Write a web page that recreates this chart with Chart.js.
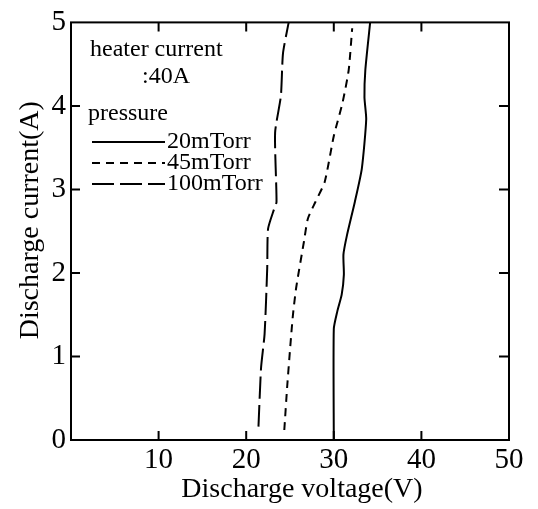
<!DOCTYPE html>
<html>
<head>
<meta charset="utf-8">
<script src="https://cdn.jsdelivr.net/npm/chart.js@4"></script>
<style>
  html, body { margin: 0; padding: 0; background: #fff; }
  #wrap { width: 538px; height: 509px; }
</style>
</head>
<body>
<div id="wrap"><canvas id="myChart" width="538" height="509"></canvas></div>
<script>
// valores (tensão em V, corrente em A)
const v20 = [30.0, 30.0, 30.4, 30.9, 31.15, 31.1, 31.5, 32.4, 33.2, 33.7, 33.5, 33.6, 34.15];
const i20 = [0, 1.33, 1.54, 1.74, 1.98, 2.22, 2.45, 2.85, 3.25, 3.84, 4.1, 4.43, 5.0];

const v45 = [24.35, 24.7, 25.3, 25.7, 26.6, 27.04, 27.9, 28.96, 30.0, 31.0, 31.7, 32.1];
const i45 = [0.12, 0.67, 1.46, 1.82, 2.38, 2.65, 2.85, 3.09, 3.64, 4.04, 4.43, 4.93];

const v100 = [21.4, 21.7, 22.1, 22.4, 22.5, 23.2, 23.46, 23.3, 23.96, 24.2, 24.85];
const i100 = [0.16, 0.87, 1.27, 2.06, 2.53, 2.77, 2.85, 3.68, 4.12, 4.63, 5.0];

const seriesNames = ['20mTorr', '45mTorr', '100mTorr'];
const xTicks = [0, 10, 20, 30, 40, 50];
const yTicks = [0, 1, 2, 3, 4, 5];
const xTitle = 'Discharge voltage(V)';
const yTitle = 'Discharge current(A)';

const serif = "'Liberation Serif', 'Times New Roman', serif";

function pts(xs, ys) {
    return xs.map((x, k) => ({ x: x, y: ys[k] }));
}

// caixa, marcas para dentro, títulos e legenda desenhados à mão
const framePlugin = {
    id: 'frame',
    afterDatasetsDraw(chart) {
        const c = chart.ctx;
        const a = chart.chartArea;
        const xs = chart.scales.x, ys = chart.scales.y;
        c.save();
        c.strokeStyle = '#000';
        c.lineWidth = 2;
        c.strokeRect(a.left, a.top, a.right - a.left, a.bottom - a.top);
        c.beginPath();
        xTicks.slice(1, -1).forEach(v => {
            const px = xs.getPixelForValue(v);
            c.moveTo(px, a.bottom); c.lineTo(px, a.bottom - 9);
            c.moveTo(px, a.top); c.lineTo(px, a.top + 9);
        });
        yTicks.slice(1, -1).forEach(v => {
            const py = ys.getPixelForValue(v);
            c.moveTo(a.left, py); c.lineTo(a.left + 9, py);
            c.moveTo(a.right, py); c.lineTo(a.right - 10, py);
        });
        c.stroke();

        c.fillStyle = '#000';

        // títulos dos eixos
        c.font = '28px ' + serif;
        c.textAlign = 'center';
        c.textBaseline = 'alphabetic';
        c.fillText(xTitle, (a.left + a.right) / 2 + 12, 497);
        c.save();
        c.translate(38, (a.top + a.bottom) / 2 - 11);
        c.rotate(-Math.PI / 2);
        c.fillText(yTitle, 0, 0);
        c.restore();

        // legenda
        c.textAlign = 'left';
        c.font = '24px ' + serif;
        c.fillText('heater current', a.left + 19, 56);
        c.fillText(':40A', a.left + 71, 83);
        c.fillText('pressure', a.left + 17, 120);
        const rows = [148, 169, 190];
        chart.data.datasets.forEach((ds, k) => {
            const y = rows[k] - 6;
            c.setLineDash(ds.borderDash || []);
            c.lineWidth = 2;
            c.beginPath();
            c.moveTo(a.left + 21, y);
            c.lineTo(a.left + 94, y);
            c.stroke();
            c.setLineDash([]);
            c.fillText(seriesNames[k], a.left + 96, rows[k]);
        });
        c.restore();
    }
};

const ctx = document.getElementById('myChart').getContext('2d');
const myChart = new Chart(ctx, {
    type: 'scatter',
    data: {
        datasets: [
            { label: seriesNames[0], data: pts(v20, i20), borderDash: [] },
            { label: seriesNames[1], data: pts(v45, i45), borderDash: [8, 6] },
            { label: seriesNames[2], data: pts(v100, i100), borderDash: [22, 6] }
        ].map(d => Object.assign(d, {
            showLine: true,
            borderColor: '#000',
            borderWidth: 2,
            pointRadius: 0,
            tension: 0.2,
            fill: false
        }))
    },
    options: {
        responsive: false,
        animation: false,
        layout: { padding: { top: 20, right: 29, left: 0, bottom: 0 } },
        plugins: { legend: { display: false }, tooltip: { enabled: false } },
        scales: {
            x: {
                type: 'linear', min: 0, max: 50,
                afterBuildTicks: s => { s.ticks = xTicks.map(v => ({ value: v })); },
                afterFit: s => { s.height = 69; },
                grid: { display: false, drawTicks: false },
                border: { display: false },
                ticks: {
                    color: '#000', padding: 3, maxRotation: 0,
                    font: { family: serif, size: 29 },
                    callback: v => (v === 0 ? '' : v)
                },
                title: { display: false }
            },
            y: {
                type: 'linear', min: 0, max: 5,
                afterBuildTicks: s => { s.ticks = yTicks.map(v => ({ value: v })); },
                afterFit: s => { s.width = 71; },
                grid: { display: false, drawTicks: false },
                border: { display: false },
                ticks: {
                    color: '#000', padding: 5,
                    font: { family: serif, size: 29 }
                },
                title: { display: false }
            }
        }
    },
    plugins: [framePlugin]
});
</script>
</body>
</html>
